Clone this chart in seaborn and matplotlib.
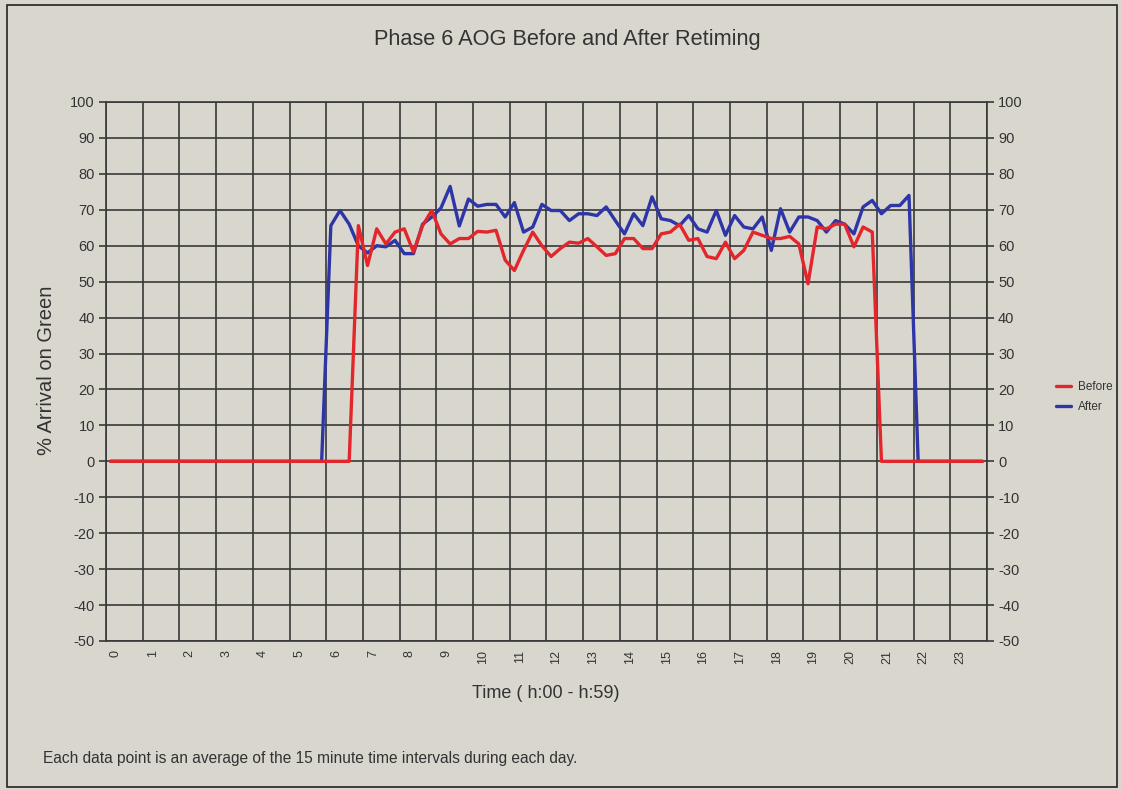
import numpy as np
import pandas as pd
import seaborn as sns
import matplotlib
matplotlib.use("Agg")
import matplotlib.pyplot as plt
from matplotlib.lines import Line2D
from matplotlib.patches import Rectangle
from matplotlib.transforms import ScaledTranslation

# 15-minute intervals of the day (start hour of each interval)
interval_start = np.arange(0, 24, 0.25)

# % arrival on green, before retiming
before = [0] * 27 + [
    65.6, 54.5, 64.7, 60.5, 63.8, 64.7, 58.3, 65.6, 69.8, 63.3,
    60.5, 62.0, 62.0, 64.0, 63.8, 64.3, 56.0, 53.1, 58.7, 63.8,
    60.0, 57.0, 59.2, 61.0, 60.7, 62.0, 59.7, 57.3, 57.8, 62.0,
    62.0, 59.2, 59.2, 63.3, 63.8, 66.0, 61.5, 62.0, 57.0, 56.4,
    61.0, 56.4, 58.7, 63.8, 62.9, 62.0, 62.0, 62.6, 60.5, 49.4,
    65.2, 64.7, 66.0, 66.0, 59.7, 65.2, 63.8,
] + [0] * 12

# % arrival on green, after retiming
after = [0] * 24 + [
    65.6, 69.8, 66.0, 60.0, 58.0, 60.0, 59.7, 61.5, 57.8, 57.8,
    66.0, 68.0, 70.5, 76.5, 65.5, 73.0, 71.0, 71.5, 71.5, 68.0,
    72.0, 63.8, 65.2, 71.5, 69.8, 69.8, 67.0, 68.9, 68.9, 68.4,
    70.8, 67.0, 63.3, 68.9, 65.6, 73.6, 67.5, 67.0, 65.6, 68.4,
    64.7, 63.8, 69.8, 62.9, 68.4, 65.2, 64.7, 68.0, 58.7, 70.3,
    63.8, 68.0, 68.0, 67.0, 63.8, 67.0, 66.0, 63.3, 70.8, 72.6,
    68.9, 71.2, 71.2, 74.0,
] + [0] * 8

hour_ticks = list(range(25))
hour_labels = [str(h) for h in range(24)] + [""]
y_ticks = list(range(-50, 101, 10))

title = "Phase 6 AOG Before and After Retiming"
x_label = "Time ( h:00 - h:59)"
y_label = "% Arrival on Green"
footnote = "Each data point is an average of the 15 minute time intervals during each day."

bg = "#d9d6ce"
grid_c = "#383838"
text_c = "#333333"
red = "#e3262b"
blue = "#2e35a6"

sns.set_style("white")
plt.rcParams["font.family"] = ["Liberation Sans", "DejaVu Sans"]

df = pd.DataFrame({
    "time": interval_start + 0.125,
    "Before": before,
    "After": after,
})

fig = plt.figure(figsize=(11.22, 7.90), dpi=100, facecolor=bg)
ax = fig.add_axes([0.09447, 0.18861, 0.78520, 0.68228])
ax.set_facecolor(bg)

sns.lineplot(data=df, x="time", y="After", ax=ax, color=blue, linewidth=2.4, zorder=3)
sns.lineplot(data=df, x="time", y="Before", ax=ax, color=red, linewidth=2.4, zorder=4)

ax.set_xlim(0, 24)
ax.set_ylim(-50, 100)
ax.set_xticks(hour_ticks)
ax.set_xticklabels(hour_labels, rotation=90, fontsize=9, color=text_c)
ax.set_yticks(y_ticks)
ax.set_yticklabels([str(v) for v in y_ticks], fontsize=10.5, color=text_c)

ax.grid(True, color=grid_c, linewidth=1.2)
ax.set_axisbelow(True)
for s in ax.spines.values():
    s.set_color(grid_c)
    s.set_linewidth(1.2)

ax.tick_params(axis="x", direction="out", length=13, width=1.2, color=grid_c, pad=-6.5)
ax.tick_params(axis="y", direction="out", length=5, width=1.2, color=grid_c, pad=3,
               left=True, right=True, labelleft=True, labelright=True)

shift = ScaledTranslation(10 / 100, 0, fig.dpi_scale_trans)
for lab in ax.get_xticklabels():
    lab.set_transform(lab.get_transform() + shift)

ax.set_xlabel("")
ax.set_ylabel("")
fig.text(546 / 1122, 1 - 693 / 790, x_label, ha="center", va="center", fontsize=13, color=text_c)
fig.text(47 / 1122, 1 - 370 / 790, y_label, ha="center", va="center", rotation=90,
         fontsize=14.5, color=text_c)
fig.text(567 / 1122, 1 - 40 / 790, title, ha="center", va="center", fontsize=15.7, color=text_c)
fig.text(43 / 1122, 1 - 758 / 790, footnote, ha="left", va="center", fontsize=11.2, color=text_c)

handles = [Line2D([], [], color=red, lw=2.4), Line2D([], [], color=blue, lw=2.4)]
fig.legend(handles, ["Before", "After"], loc="center left",
           bbox_to_anchor=(1045 / 1122, 1 - 397 / 790), frameon=False,
           fontsize=8.5, handlelength=1.3, handletextpad=0.6, labelspacing=0.7,
           labelcolor=text_c)

fig.patches.append(Rectangle((7 / 1122, 3 / 790), 1110 / 1122, 782 / 790,
                             transform=fig.transFigure, fill=False,
                             edgecolor="#222222", linewidth=1.2))

fig.savefig("out.png", dpi=100, facecolor=bg)
